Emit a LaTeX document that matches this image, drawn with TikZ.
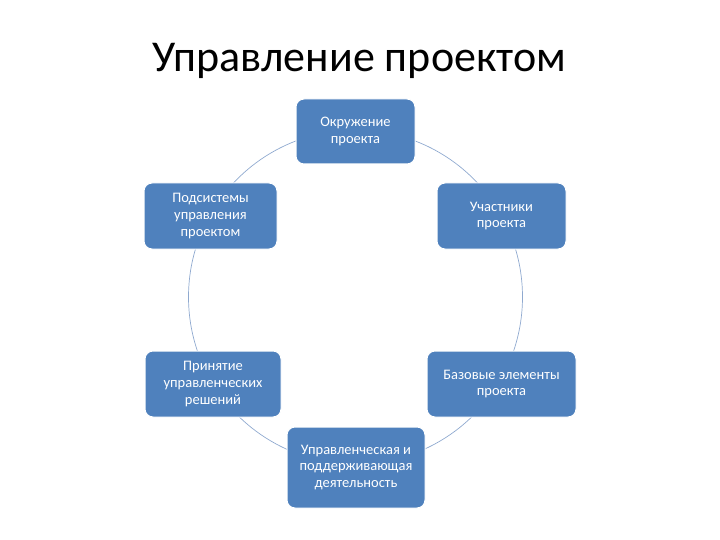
\documentclass[tikz,border=0pt]{standalone}
\usepackage{fontspec}
\setmainfont{Carlito}
\definecolor{boxblue}{HTML}{4F81BD}
\definecolor{ringblue}{HTML}{8FA9CF}
\begin{document}
\begin{tikzpicture}[x=1pt,y=-1pt,
  cbox/.style={draw=white, line width=1pt, fill=boxblue, rounded corners=8pt,
    text=white, align=center, font=\fontsize{14.5}{16.7}\selectfont, inner sep=0pt},
  ring/.style={draw=ringblue, line width=0.7pt}]
\useasboundingbox (0,0) rectangle (720,540);
\node[font=\fontsize{44}{52}\selectfont, anchor=base] (title) at (359,72) {Управление проектом};
\draw[ring] (355.5,297) circle [radius=167];
\node[cbox, minimum width=119, minimum height=65] (n1) at (355.5,131.5) {Окружение\\проекта};
\node[cbox, minimum width=129, minimum height=66] (n2) at (501.5,216) {Участники\\проекта};
\node[cbox, minimum width=149, minimum height=66] (n3) at (501.5,384) {Базовые элементы\\проекта};
\node[cbox, minimum width=138, minimum height=81] (n4) at (356,467.5) {Управленческая и\\поддерживающая\\деятельность};
\node[cbox, minimum width=136, minimum height=66] (n5) at (213,384) {Принятие\\управленческих\\решений};
\node[cbox, minimum width=133, minimum height=66] (n6) at (210.5,216) {Подсистемы\\управления\\проектом};
\end{tikzpicture}
\end{document}
